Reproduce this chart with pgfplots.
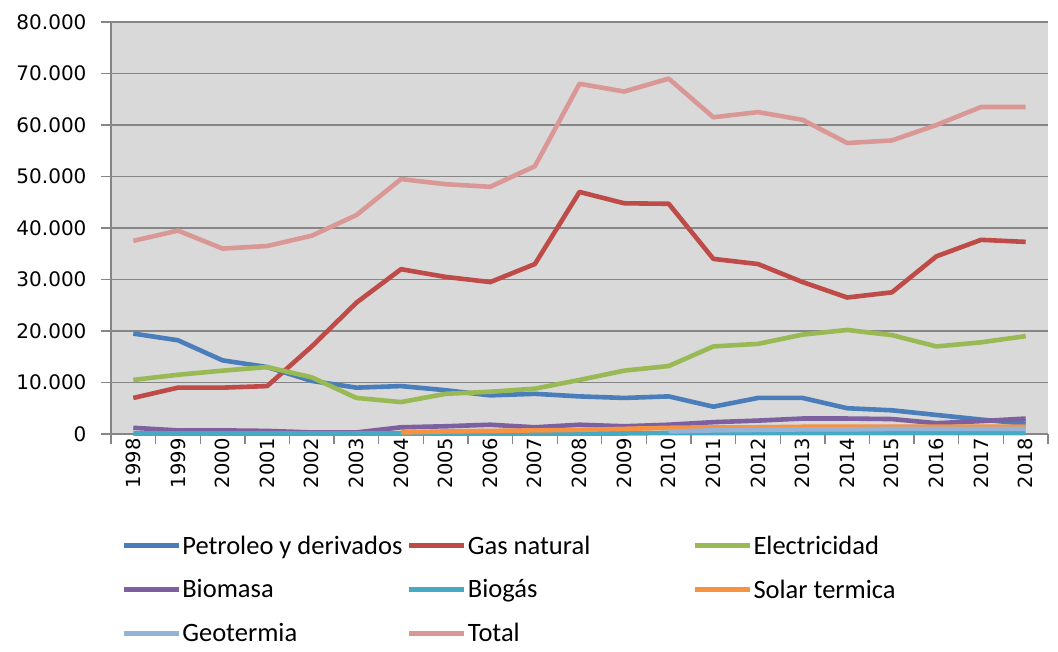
\documentclass[border=0pt]{standalone}
\usepackage{pgfplots}
\pgfplotsset{compat=1.18}
\usepackage{pgfplotstable}
\usepackage{fontspec}
\setmainfont{Carlito}
\newfontfamily\dejavu{DejaVu Sans}
\definecolor{cPet}{HTML}{4A7EBB}
\definecolor{cGas}{HTML}{BE4B48}
\definecolor{cEle}{HTML}{98B954}
\definecolor{cBio}{HTML}{7D60A0}
\definecolor{cBig}{HTML}{46AAC5}
\definecolor{cSol}{HTML}{F69240}
\definecolor{cGeo}{HTML}{95B3D7}
\definecolor{cTot}{HTML}{D99795}
\definecolor{plotgray}{HTML}{D9D9D9}
\definecolor{gridgray}{HTML}{868686}
\pgfplotstableread{
x Pet Gas Ele Bio Big Sol Geo Tot
0 19.5 7.0 10.5 1.2 0.1 nan nan 37.5
1 18.2 9.0 11.5 0.7 0.1 nan nan 39.5
2 14.3 9.0 12.3 0.7 0.1 nan nan 36.0
3 13.0 9.3 13.0 0.6 0.1 nan nan 36.5
4 10.3 17.0 11.0 0.3 0.1 nan nan 38.5
5 9.0 25.5 7.0 0.3 0.1 nan nan 42.5
6 9.3 32.0 6.2 1.3 0.1 0.3 nan 49.5
7 8.5 30.5 7.8 1.5 0.1 0.5 nan 48.5
8 7.5 29.5 8.2 1.8 0.1 0.6 nan 48.0
9 7.8 33.0 8.8 1.3 0.1 0.7 nan 52.0
10 7.3 47.0 10.5 1.8 0.1 0.8 nan 68.0
11 7.0 44.8 12.3 1.5 0.1 1.0 nan 66.5
12 7.3 44.7 13.2 1.8 0.2 1.2 0.5 69.0
13 5.3 34.0 17.0 2.3 0.2 1.3 0.7 61.5
14 7.0 33.0 17.5 2.6 0.2 1.3 0.8 62.5
15 7.0 29.5 19.3 3.0 0.2 1.4 0.9 61.0
16 5.0 26.5 20.2 3.0 0.2 1.4 0.9 56.5
17 4.6 27.5 19.2 2.9 0.2 1.4 1.0 57.0
18 3.7 34.5 17.0 2.1 0.2 1.4 1.0 60.0
19 2.8 37.7 17.8 2.5 0.2 1.4 1.0 63.5
20 2.0 37.3 19.0 3.0 0.2 1.4 1.0 63.5
}\data
\begin{document}
\begin{tikzpicture}
\begin{axis}[
  at={(111pt,218pt)}, anchor=south west,
  scale only axis, width=937pt, height=412pt,
  xmin=-0.5, xmax=20.5, ymin=0, ymax=80,
  axis background/.style={fill=plotgray},
  axis x line*=bottom, axis y line*=left,
  axis line style={draw=gridgray, line width=1.3pt, -},
  tick align=outside,
  major tick length=10pt,
  tick style={draw=gridgray, line width=1.3pt},
  ymajorgrids, grid style={draw=gridgray, line width=1.3pt},
  ytick={0,10,...,80},
  yticklabels={0,10.000,20.000,30.000,40.000,50.000,60.000,70.000,80.000},
  yticklabel style={font=\dejavu\fontsize{20}{24}\selectfont, xshift=-11pt},
  xtick={-0.5,0.5,...,20.5},
  xticklabels={},
  extra x ticks={0,...,20},
  extra x tick labels={1998,1999,2000,2001,2002,2003,2004,2005,2006,2007,2008,2009,2010,2011,2012,2013,2014,2015,2016,2017,2018},
  extra x tick style={major tick length=0pt, grid=none, xticklabel style={rotate=90, anchor=east, xshift=-1pt, font=\dejavu\fontsize{19.5}{22}\selectfont}},
  clip=false,
  every axis plot/.append style={line width=4.6pt, line join=round, mark=none},
  legend image code/.code={\draw[#1] (0pt,0pt) -- (55pt,0pt);},
  legend cell align=left,
  legend columns=3,
  legend style={at={(0.0075,-0.238)}, anchor=north west, draw=none, fill=none,
    font=\fontsize{26.5}{29}\selectfont, row sep=21pt,
    nodes={inner sep=1.5pt}},
]
\addplot[cPet] table[x=x,y=Pet]{\data};
\addlegendentry{\makebox[223pt][l]{Petroleo y derivados}}
\addplot[cGas] table[x=x,y=Gas]{\data};
\addlegendentry{\makebox[223pt][l]{Gas natural}}
\addplot[cEle] table[x=x,y=Ele]{\data};
\addlegendentry{\makebox[223pt][l]{Electricidad}}
\addplot[cBio] table[x=x,y=Bio]{\data};
\addlegendentry{\makebox[223pt][l]{Biomasa}}
\addplot[cBig] table[x=x,y=Big]{\data};
\addlegendentry{\makebox[223pt][l]{Biogás}}
\addplot[cSol] table[x=x,y=Sol]{\data};
\addlegendentry{\makebox[223pt][l]{Solar termica}}
\addplot[cGeo] table[x=x,y=Geo]{\data};
\addlegendentry{\makebox[223pt][l]{Geotermia}}
\addplot[cTot] table[x=x,y=Tot]{\data};
\addlegendentry{\makebox[223pt][l]{Total}}
\end{axis}
\pgfresetboundingbox
\path[use as bounding box] (0,0) rectangle (1058pt,652pt);
\end{tikzpicture}
\end{document}
